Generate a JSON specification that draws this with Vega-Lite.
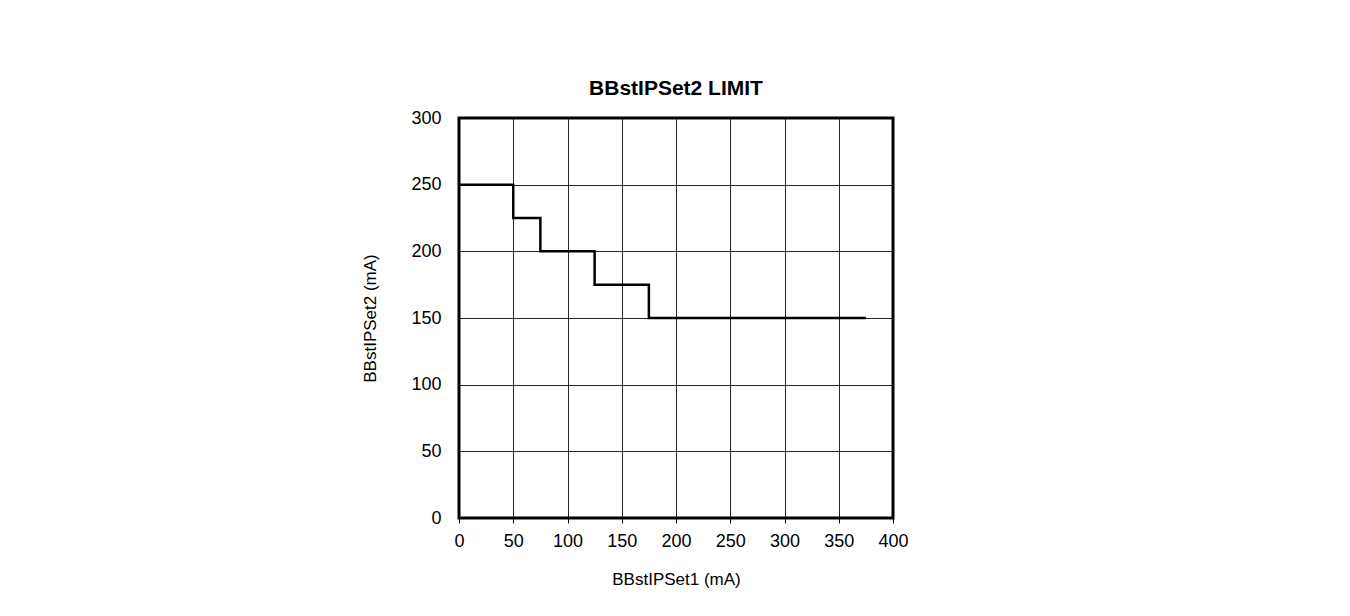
{
  "$schema": "https://vega.github.io/schema/vega-lite/v6.json",
  "autosize": "none",
  "padding": {"left": 459, "top": 118, "right": 457, "bottom": 98},
  "width": 434,
  "height": 400,
  "background": "white",
  "title": {
    "text": "BBstIPSet2 LIMIT",
    "font": "Liberation Sans",
    "fontSize": 21,
    "fontWeight": "bold",
    "color": "black",
    "anchor": "middle",
    "offset": 10
  },
  "data": {
    "values": [
      {"x": 0, "y": 250},
      {"x": 50, "y": 225},
      {"x": 75, "y": 200},
      {"x": 125, "y": 175},
      {"x": 175, "y": 150},
      {"x": 375, "y": 150}
    ]
  },
  "mark": {"type": "line", "interpolate": "step-after", "color": "black", "strokeWidth": 2.5, "clip": false},
  "encoding": {
    "x": {
      "field": "x",
      "type": "quantitative",
      "scale": {"domain": [0, 400], "nice": false, "zero": false},
      "axis": {
        "title": "BBstIPSet1 (mA)",
        "values": [0, 50, 100, 150, 200, 250, 300, 350, 400],
        "format": "d",
        "domain": false,
        "tickSize": 5,
        "tickColor": "black",
        "labelPadding": 9,
        "titlePadding": 21
      }
    },
    "y": {
      "field": "y",
      "type": "quantitative",
      "scale": {"domain": [0, 300], "nice": false, "zero": false},
      "axis": {
        "title": "BBstIPSet2 (mA)",
        "values": [0, 50, 100, 150, 200, 250, 300],
        "format": "d",
        "domain": false,
        "ticks": false,
        "labelPadding": 18,
        "titlePadding": 31
      }
    }
  },
  "config": {
    "view": {"stroke": "black", "strokeWidth": 3},
    "axis": {
      "grid": true,
      "gridColor": "black",
      "gridOpacity": 0.85,
      "gridWidth": 1,
      "labelFont": "Liberation Sans",
      "labelFontSize": 18,
      "labelColor": "black",
      "titleFont": "Liberation Sans",
      "titleFontSize": 17,
      "titleFontWeight": "normal",
      "titleColor": "black",
      "labelFlush": false,
      "labelOverlap": false
    }
  }
}
